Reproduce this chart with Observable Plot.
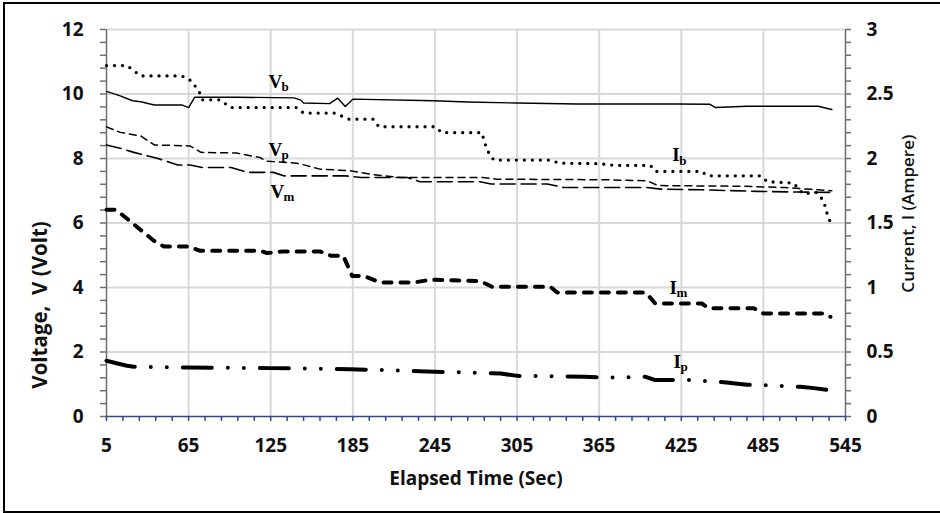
<!DOCTYPE html>
<html>
<head>
<meta charset="utf-8">
<script src="https://cdn.jsdelivr.net/npm/d3@7"></script>
<script src="https://cdn.jsdelivr.net/npm/@observablehq/plot@0.6"></script>
<style>
  html, body { margin: 0; padding: 0; background: #fff; overflow: hidden; }
  #wrap { position: relative; width: 940px; height: 513px; }
  #wrap svg { position: absolute; left: 0; top: 0; }
  #wrap svg text { white-space: pre; }
  #border { position: absolute; left: 3px; top: 2px; width: 960px; height: 507px;
            border: 2px solid #000; pointer-events: none; }
</style>
</head>
<body>
<div id="wrap"><div id="border"></div></div>
<script>
// ---- Data ----
// Voltages (V) vs elapsed time (s)
const vbT = [5, 15, 24, 30, 40, 60, 65, 69.5, 100, 142, 147, 149, 168, 174, 179.5, 185, 244, 269, 305, 349, 420, 446, 450, 473, 525, 535];
const vbV = [10.08, 9.94, 9.79, 9.76, 9.66, 9.66, 9.58, 9.9, 9.9, 9.88, 9.81, 9.72, 9.7, 9.87, 9.61, 9.84, 9.79, 9.75, 9.72, 9.69, 9.69, 9.68, 9.58, 9.62, 9.62, 9.52];

const vpT = [5, 15, 30, 40, 66, 74, 100, 117, 122, 142, 147, 161, 183, 200, 220, 280, 290, 370, 400, 408, 470, 500, 525, 535];
const vpV = [8.98, 8.81, 8.7, 8.42, 8.39, 8.19, 8.17, 8.03, 7.92, 7.86, 7.83, 7.67, 7.62, 7.5, 7.41, 7.41, 7.36, 7.34, 7.31, 7.16, 7.14, 7.1, 7.03, 7.0];

const vmT = [5, 15, 25, 42, 57, 66, 75, 96, 108, 127, 135, 180, 191, 225, 234, 278, 286, 327, 339, 400, 410, 440, 480, 510, 535];
const vmV = [8.42, 8.32, 8.19, 8.01, 7.8, 7.8, 7.72, 7.72, 7.57, 7.57, 7.46, 7.46, 7.41, 7.41, 7.28, 7.28, 7.21, 7.21, 7.1, 7.1, 7.05, 7.03, 6.98, 6.96, 6.95];

// Currents (A) vs elapsed time (s)
const ibT = [5, 20, 30, 59, 63, 67.6, 73, 75, 88, 95.6, 144, 149, 172, 182, 200, 204, 245.4, 250, 279.4, 281, 284, 288, 329.4, 335.5, 364.5, 377, 402.5, 406, 440, 444, 483, 488, 507, 514, 524, 529, 531.6, 534];
const ibI = [2.72, 2.72, 2.64, 2.64, 2.63, 2.595, 2.51, 2.455, 2.455, 2.395, 2.395, 2.352, 2.352, 2.305, 2.305, 2.246, 2.246, 2.2, 2.2, 2.13, 2.05, 1.988, 1.988, 1.964, 1.96, 1.946, 1.946, 1.9, 1.9, 1.866, 1.866, 1.82, 1.81, 1.726, 1.736, 1.672, 1.57, 1.504];

const imT = [5, 12, 25, 39.6, 47, 65, 73.6, 117.5, 122.4, 134.6, 161, 169, 178, 184.5, 193, 205, 229.5, 242, 278, 286.8, 329.4, 334.3, 399, 406, 440, 445, 478, 485, 529, 534];
const imI = [1.602, 1.602, 1.49, 1.362, 1.318, 1.318, 1.284, 1.284, 1.267, 1.28, 1.28, 1.246, 1.246, 1.09, 1.09, 1.039, 1.039, 1.06, 1.05, 1.005, 1.005, 0.961, 0.961, 0.876, 0.876, 0.84, 0.84, 0.798, 0.798, 0.773];

const ipT = [5, 13, 20, 25, 65, 125, 183, 239, 293, 305, 354, 373, 399, 406, 433, 458, 473, 497, 512, 522, 531];
const ipI = [0.432, 0.411, 0.393, 0.385, 0.38, 0.375, 0.367, 0.349, 0.333, 0.315, 0.308, 0.302, 0.308, 0.282, 0.282, 0.264, 0.246, 0.238, 0.23, 0.22, 0.207];

// Axis ticks
const xTickLabels = [5, 65, 125, 185, 245, 305, 365, 425, 485, 545];
const vTickLabels = [0, 2, 4, 6, 8, 10, 12];
const iTickLabels = [0, 0.5, 1, 1.5, 2, 2.5, 3];

// Series labels (main letter + subscript)
const labelV = [{t: 123.4, v: 10.19, sub: "b"}, {t: 123.4, v: 8.08, sub: "p"}, {t: 124.8, v: 6.78, sub: "m"}];
const labelI = [{t: 418.4, a: 1.98, sub: "b"}, {t: 416.4, a: 0.95, sub: "m"}, {t: 419.3, a: 0.377, sub: "p"}];

// Axis titles (anchored in scale units)
const titles = [
  {text: "Elapsed Time (Sec)", t: 275, v: -2.12},
  {text: "Voltage,  V (Volt)", t: -43.2, v: 3.46},
  {text: "Current, I (Ampere)", t: 591, v: 6.29}
];

// ---- Build ----
const AMP_TO_V = 12 / 3; // right axis 0–3 A shares the 0–12 V scale
const rows = (T, Y, k = 1) => T.map((t, i) => ({t, y: Y[i] * k}));
const vb = rows(vbT, vbV), vp = rows(vpT, vpV), vm = rows(vmT, vmV);
const ib = rows(ibT, ibI, AMP_TO_V), im = rows(imT, imI, AMP_TO_V), ip = rows(ipT, ipI, AMP_TO_V);

const xMinor = d3.range(5, 546, 12);
const yMinor = d3.range(0, 12.01, 0.4).map(d => +d.toFixed(2));
const xGrid = xTickLabels.slice(1, -1);
const yGrid = vTickLabels.slice(1);

const W = 940, H = 513, ML = 106, MR = 95, MT = 29, MB = 97;
const FW = W - ML - MR, FH = H - MT - MB;

const axisGray = "#6f6f6f";
const navy = "#2f4a86";
const tickFont = {fontSize: 19, fontWeight: "bold", fontFamily: "Open Sans"};

const chart = Plot.plot({
  width: W,
  height: H,
  marginLeft: ML,
  marginRight: MR,
  marginTop: MT,
  marginBottom: MB,
  x: {domain: [5, 545], label: null},
  y: {domain: [0, 12], label: null},
  style: {fontFamily: "Open Sans", background: "transparent", color: "#000"},
  marks: [
    // gridlines
    Plot.ruleX(xGrid, {stroke: "#d9d9d9", strokeWidth: 2}),
    Plot.ruleY(yGrid, {stroke: "#d9d9d9", strokeWidth: 2}),

    // tick marks (minor + major)
    Plot.ruleY(yMinor, {stroke: axisGray, strokeWidth: 1.5, insetLeft: -6, insetRight: FW}),
    Plot.ruleY(yMinor, {stroke: axisGray, strokeWidth: 1.5, insetLeft: FW, insetRight: -6}),
    Plot.ruleX(xMinor, {stroke: navy, strokeWidth: 1.5, insetTop: FH, insetBottom: -5}),

    // tick labels
    Plot.axisY({anchor: "left", ticks: vTickLabels, tickSize: 0, tickPadding: 23, label: null, ...tickFont, fill: "#111"}),
    Plot.axisY({anchor: "right", ticks: iTickLabels.map(d => d * AMP_TO_V), tickFormat: d => String(d / AMP_TO_V),
                tickSize: 0, tickPadding: 21, label: null, ...tickFont, fill: "#111"}),
    Plot.axisX({anchor: "bottom", ticks: xTickLabels, tickSize: 0, tickPadding: 22, label: null, ...tickFont, fill: "#111"}),

    // axis lines
    Plot.ruleX([5], {stroke: axisGray, strokeWidth: 1.5}),
    Plot.ruleX([545], {stroke: axisGray, strokeWidth: 1.5}),
    Plot.ruleY([0], {stroke: navy, strokeWidth: 1.5}),

    // series
    Plot.line(vb, {x: "t", y: "y", stroke: "#000", strokeWidth: 1.4}),
    Plot.line(vp, {x: "t", y: "y", stroke: "#000", strokeWidth: 1.5, strokeDasharray: "7,5"}),
    Plot.line(vm, {x: "t", y: "y", stroke: "#000", strokeWidth: 1.6, strokeDasharray: "15,6"}),
    Plot.line(ib, {x: "t", y: "y", stroke: "#000", strokeWidth: 3.3, strokeDasharray: "0,8", strokeLinecap: "round"}),
    Plot.line(im, {x: "t", y: "y", stroke: "#000", strokeWidth: 4, strokeDasharray: "8,9", strokeLinecap: "round"}),
    Plot.line(ip, {x: "t", y: "y", stroke: "#000", strokeWidth: 4, strokeDasharray: "29,16,0,16,0,16", strokeLinecap: "round"}),

    // series labels
    Plot.text(labelV, {x: "t", y: "v", text: () => "V", textAnchor: "start", lineAnchor: "bottom",
                       fontFamily: "Liberation Serif", fontWeight: "bold", fontSize: 19, fill: "#000"}),
    Plot.text(labelV, {x: "t", y: "v", text: "sub", textAnchor: "start", lineAnchor: "bottom", dx: 13, dy: 3.5,
                       fontFamily: "Liberation Serif", fontWeight: "bold", fontSize: 13, fill: "#000"}),
    Plot.text(labelI, {x: "t", y: d => d.a * AMP_TO_V, text: () => "I", textAnchor: "start", lineAnchor: "bottom",
                       fontFamily: "Liberation Serif", fontWeight: "bold", fontSize: 19, fill: "#000"}),
    Plot.text(labelI, {x: "t", y: d => d.a * AMP_TO_V, text: "sub", textAnchor: "start", lineAnchor: "bottom", dx: 7, dy: 3.5,
                       fontFamily: "Liberation Serif", fontWeight: "bold", fontSize: 13, fill: "#000"}),

    // axis titles
    Plot.text(titles.slice(0, 1), {x: "t", y: "v", text: "text", lineAnchor: "bottom",
                                   fontSize: 19, fontWeight: "bold", fill: "#111"}),
    Plot.text(titles.slice(1, 2), {x: "t", y: "v", text: "text", rotate: -90, lineAnchor: "middle",
                                   fontSize: 20.5, fontWeight: "bold", fill: "#111"}),
    Plot.text(titles.slice(2, 3), {x: "t", y: "v", text: "text", rotate: -90, lineAnchor: "middle",
                                   fontSize: 17, fontWeight: 600, fill: "#111"})
  ]
});
document.getElementById("wrap").prepend(chart);
</script>
</body>
</html>
